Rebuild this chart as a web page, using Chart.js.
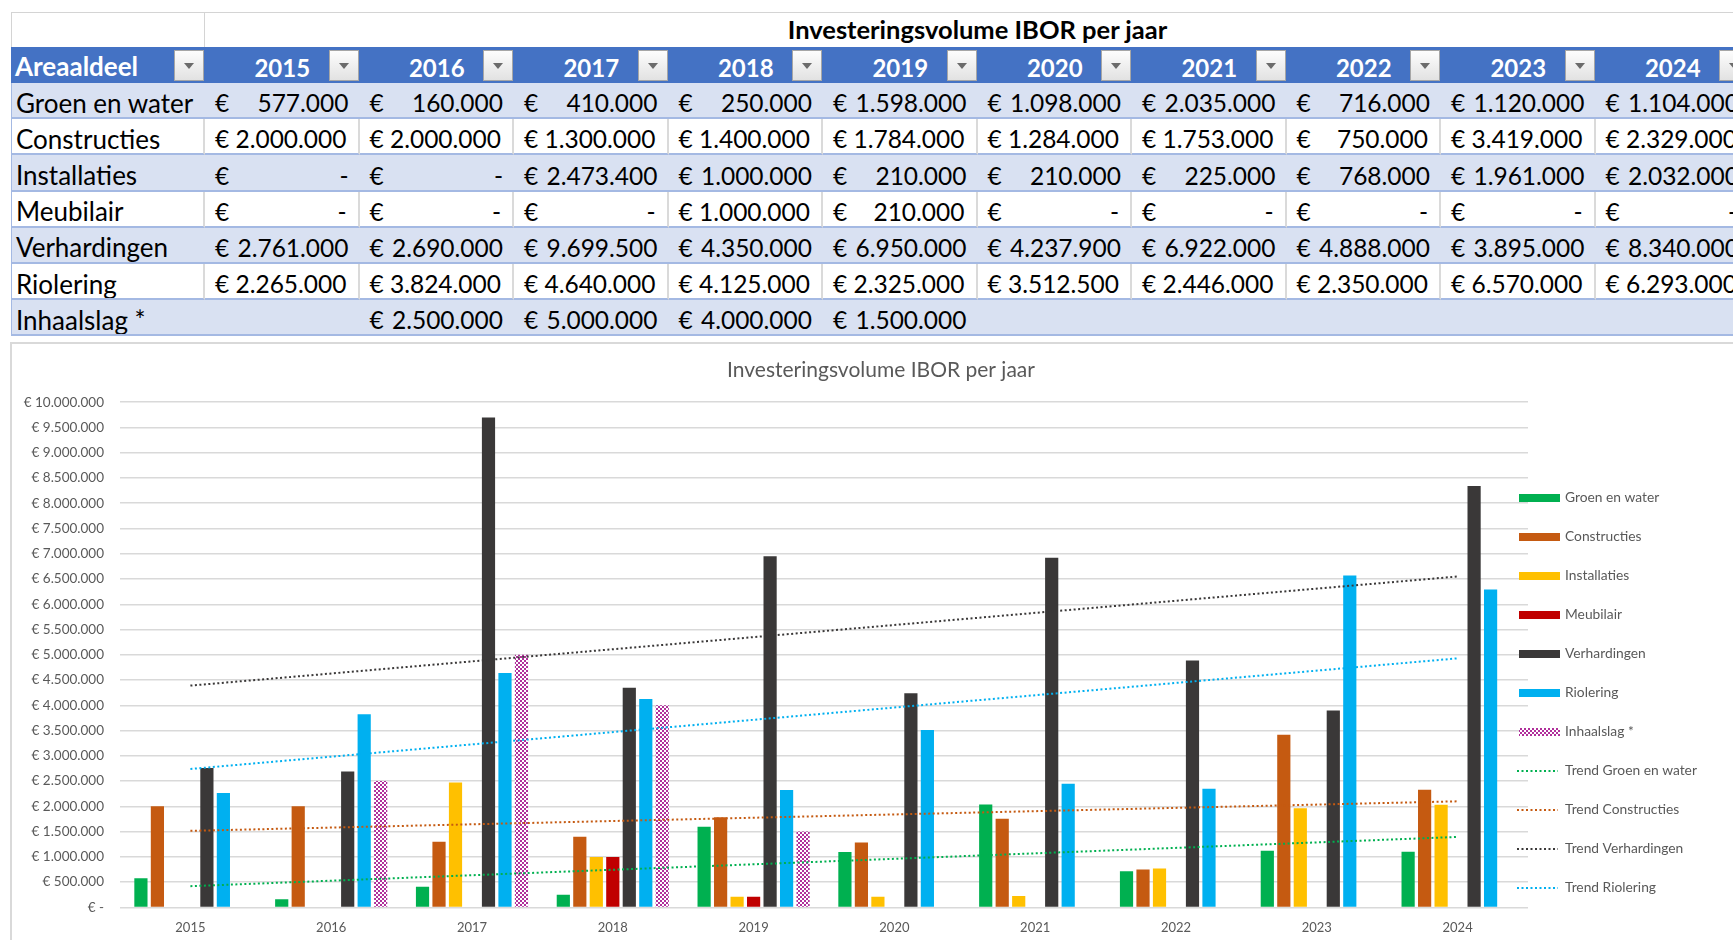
<!DOCTYPE html>
<html lang="nl">
<head>
<meta charset="utf-8">
<title>Investeringsvolume IBOR per jaar</title>
<script src="https://cdn.jsdelivr.net/npm/chart.js@4.4.1/dist/chart.umd.min.js"></script>
<style>
  html, body { margin: 0; padding: 0; }
  body { width: 1733px; height: 940px; overflow: hidden; position: relative; background: #fff; font-family: Lato, "Noto Sans", sans-serif; }

  #tabel { position: absolute; left: 11px; top: 12px; display: grid;
           grid-template-columns: 194px repeat(10, 154.5px);
           grid-template-rows: 35px 36px repeat(7, 36.2px); }
  .cel { box-sizing: border-box; display: flex; align-items: flex-end; font-size: 24.5px; color: #000; white-space: nowrap; overflow: hidden; }
  .titelleeg { border-top: 1px solid #d4d4d4; border-right: 1px solid #d4d4d4; border-left: 1px solid #d4d4d4; }
  .titel { grid-column: 2 / span 10; border-top: 1px solid #d4d4d4; justify-content: center; font-weight: bold; font-size: 25.5px; padding-bottom: 3px; }
  .kop { background: #4472c4; color: #fff; font-weight: bold; font-size: 24px; line-height: 1.1; justify-content: center; padding-bottom: 2px; position: relative; }
  .kop.eerste { justify-content: flex-start; padding-left: 4px; font-size: 26px; }
  .filter { position: absolute; right: 1px; top: 3px; width: 30px; height: 31px; box-sizing: border-box; border: 1px solid #a6a6a6; background: linear-gradient(#fdfdfd, #e2e2e2); }
  .filter::after { content: ""; position: absolute; left: 9px; top: 12px; border-left: 5px solid transparent; border-right: 5px solid transparent; border-top: 6px solid #6b6b6b; }
  .rij { border-bottom: 2px solid #a4b9e3; }
  .band { background: #d9e1f2; }
  .wit { background: #fff; border-right: 2px solid #dadada; }
  .label { padding-left: 4px; border-left: 1px solid #a4b9e3; font-size: 26px; line-height: 1.1; }
  .bedrag { justify-content: space-between; padding: 0 11px 0 10px; }

  #kader { position: absolute; left: 10px; top: 342px; width: 1780px; height: 640px; border: 2px solid #d9d9d9; box-sizing: border-box; }
  #wrap { position: absolute; left: 12px; top: 344px; width: 1738px; height: 610px; }
</style>
</head>
<body>
<div id="tabel"></div>
<div id="kader"></div>
<div id="wrap"><canvas id="grafiek"></canvas></div>

<script>
const jaren = ["2015", "2016", "2017", "2018", "2019", "2020", "2021", "2022", "2023", "2024"];

const groenEnWater = [577000, 160000, 410000, 250000, 1598000, 1098000, 2035000, 716000, 1120000, 1104000];
const constructies = [2000000, 2000000, 1300000, 1400000, 1784000, 1284000, 1753000, 750000, 3419000, 2329000];
const installaties = [0, 0, 2473400, 1000000, 210000, 210000, 225000, 768000, 1961000, 2032000];
const meubilair = [0, 0, 0, 1000000, 210000, 0, 0, 0, 0, 0];
const verhardingen = [2761000, 2690000, 9699500, 4350000, 6950000, 4237900, 6922000, 4888000, 3895000, 8340000];
const riolering = [2265000, 3824000, 4640000, 4125000, 2325000, 3512500, 2446000, 2350000, 6570000, 6293000];
const inhaalslag = [null, 2500000, 5000000, 4000000, 1500000, null, null, null, null, null];

// trendlijnen: begin- en eindpunt
const trendGroen = [420000, null, null, null, null, null, null, null, null, 1395000];
const trendConstructies = [1515000, null, null, null, null, null, null, null, null, 2100000];
const trendVerhardingen = [4390000, null, null, null, null, null, null, null, null, 6550000];
const trendRiolering = [2740000, null, null, null, null, null, null, null, null, 4930000];

const yMax = 10000000;
const yStap = 500000;

const kleuren = {
  groen: "#00b050",
  constructies: "#c55a11",
  installaties: "#ffc000",
  meubilair: "#c00000",
  verhardingen: "#3a3838",
  riolering: "#00b0f0",
  inhaalslag: "#b0309b"
};

function punt(v) {
  return String(v).replace(/\B(?=(\d{3})+(?!\d))/g, ".");
}

function euro(v) {
  return v === 0 ? "€ -" : "€ " + punt(v);
}

function bouwTabel() {
  const rijen = [
    ["Groen en water", groenEnWater],
    ["Constructies", constructies],
    ["Installaties", installaties],
    ["Meubilair", meubilair],
    ["Verhardingen", verhardingen],
    ["Riolering", riolering],
    ["Inhaalslag *", inhaalslag]
  ];

  let html = '<div class="cel titelleeg"></div><div class="cel titel">Investeringsvolume IBOR per jaar</div>';
  html += '<div class="cel kop eerste">Areaaldeel<span class="filter"></span></div>';
  jaren.forEach(j => {
    html += `<div class="cel kop">${j}<span class="filter"></span></div>`;
  });

  rijen.forEach(([naam, waarden], i) => {
    const cls = i % 2 === 0 ? "band" : "wit";
    html += `<div class="cel rij ${cls} label">${naam}</div>`;
    waarden.forEach(v => {
      if (v === null) {
        html += `<div class="cel rij ${cls}"></div>`;
      } else {
        html += `<div class="cel rij ${cls} bedrag"><span>€</span><span>${v === 0 ? "-" : punt(v)}</span></div>`;
      }
    });
  });

  document.getElementById("tabel").innerHTML = html;
}

function stippen(kleur) {
  const c = document.createElement("canvas");
  c.width = 4;
  c.height = 4;
  const g = c.getContext("2d");
  g.fillStyle = "#fff";
  g.fillRect(0, 0, 4, 4);
  g.fillStyle = kleur;
  g.fillRect(0, 0, 2, 2);
  g.fillRect(2, 2, 2, 2);
  return g.createPattern(c, "repeat");
}

// legenda rechts, getekend op het canvas
const zijLegenda = {
  id: "zijLegenda",
  afterDraw(chart, args, opts) {
    const ctx = chart.ctx;
    ctx.save();
    ctx.font = "13.8px Lato";
    ctx.textBaseline = "middle";
    chart.data.datasets.forEach((ds, i) => {
      const y = opts.y + i * opts.stap;
      if (ds.type === "line") {
        ctx.strokeStyle = ds.borderColor;
        ctx.lineWidth = 2;
        ctx.setLineDash(ds.borderDash);
        ctx.beginPath();
        ctx.moveTo(opts.x - 2, y);
        ctx.lineTo(opts.x + 39, y);
        ctx.stroke();
        ctx.setLineDash([]);
      } else {
        ctx.fillStyle = ds.backgroundColor;
        ctx.fillRect(opts.x, y - 4, 41, 8);
      }
      ctx.fillStyle = "#595959";
      ctx.fillText(ds.label, opts.x + 46, y);
    });
    ctx.restore();
  }
};

function staaf(label, data, kleur) {
  return {
    label,
    data,
    backgroundColor: kleur,
    borderWidth: 0,
    barPercentage: 0.8,
    categoryPercentage: 0.82,
    order: 1
  };
}

function trend(label, data, kleur) {
  return {
    type: "line",
    label,
    data,
    borderColor: kleur,
    borderWidth: 2,
    borderDash: [2, 2.5],
    pointRadius: 0,
    spanGaps: true,
    fill: false,
    order: 0
  };
}

function tekenGrafiek() {
  const ctx = document.getElementById("grafiek");

  new Chart(ctx, {
    type: "bar",
    data: {
      labels: jaren,
      datasets: [
        staaf("Groen en water", groenEnWater, kleuren.groen),
        staaf("Constructies", constructies, kleuren.constructies),
        staaf("Installaties", installaties, kleuren.installaties),
        staaf("Meubilair", meubilair, kleuren.meubilair),
        staaf("Verhardingen", verhardingen, kleuren.verhardingen),
        staaf("Riolering", riolering, kleuren.riolering),
        staaf("Inhaalslag *", inhaalslag, stippen(kleuren.inhaalslag)),
        trend("Trend Groen en water", trendGroen, kleuren.groen),
        trend("Trend Constructies", trendConstructies, kleuren.constructies),
        trend("Trend Verhardingen", trendVerhardingen, kleuren.verhardingen),
        trend("Trend Riolering", trendRiolering, kleuren.riolering)
      ]
    },
    options: {
      responsive: true,
      maintainAspectRatio: false,
      animation: false,
      layout: { padding: { left: 0, right: 0, top: 0, bottom: 5 } },
      plugins: {
        legend: { display: false },
        tooltip: { enabled: false },
        title: {
          display: true,
          text: "Investeringsvolume IBOR per jaar",
          color: "#595959",
          font: { family: "Lato", size: 21, weight: "normal" },
          padding: { top: 14, bottom: 19 }
        },
        zijLegenda: { x: 1507, y: 154, stap: 39 }
      },
      scales: {
        x: {
          grid: { display: false, drawTicks: false },
          border: { display: false },
          ticks: { color: "#595959", font: { family: "Lato", size: 13 }, padding: 13 }
        },
        y: {
          min: 0,
          max: yMax,
          grid: { color: "#d9d9d9", lineWidth: 1.5, drawTicks: false },
          border: { display: false },
          ticks: {
            stepSize: yStap,
            color: "#595959",
            font: { family: "Lato", size: 13.5 },
            padding: 16,
            callback: v => euro(v)
          },
          afterFit: s => { s.width = 108; }
        },
        // lege as rechts: ruimte voor de legenda
        ruimte: {
          type: "linear",
          position: "right",
          grid: { display: false, drawTicks: false },
          border: { display: false },
          ticks: { display: false },
          afterFit: s => { s.width = 222; }
        }
      }
    },
    plugins: [zijLegenda]
  });
}

bouwTabel();
tekenGrafiek();
</script>
</body>
</html>
